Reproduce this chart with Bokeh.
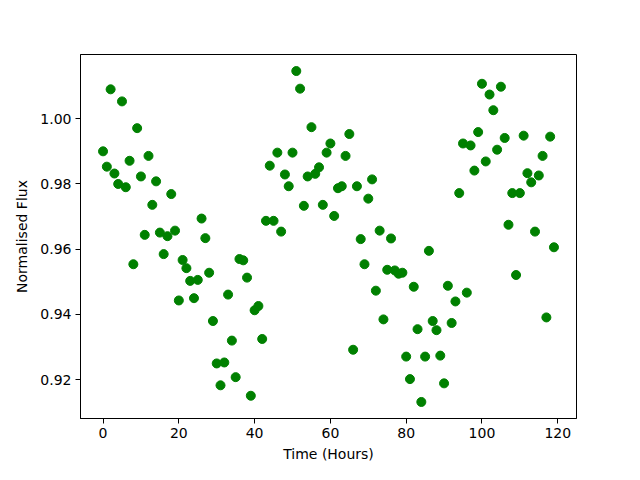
from bokeh.plotting import figure
from bokeh.models import Range1d, FixedTicker, NumeralTickFormatter
from bokeh.embed import file_html
from bokeh.resources import INLINE

hours = list(range(120))
flux = [
    0.9900, 0.9853, 1.0090, 0.9832, 0.9800, 1.0053, 0.9790, 0.9871, 0.9554, 0.9971,
    0.9823, 0.9644, 0.9886, 0.9736, 0.9808, 0.9651, 0.9585, 0.9640, 0.9769, 0.9657,
    0.9443, 0.9567, 0.9542, 0.9503, 0.9450, 0.9506, 0.9694, 0.9634, 0.9528, 0.9380,
    0.9250, 0.9183, 0.9253, 0.9461, 0.9320, 0.9208, 0.9570, 0.9566, 0.9513, 0.9151,
    0.9413, 0.9426, 0.9325, 0.9687, 0.9856, 0.9687, 0.9896, 0.9654, 0.9829, 0.9793,
    0.9896, 1.0146, 1.0092, 0.9733, 0.9823, 0.9974, 0.9831, 0.9851, 0.9736, 0.9896,
    0.9924, 0.9702, 0.9787, 0.9793, 0.9886, 0.9953, 0.9292, 0.9793, 0.9631, 0.9554,
    0.9755, 0.9814, 0.9473, 0.9657, 0.9385, 0.9537, 0.9633, 0.9535, 0.9525, 0.9528,
    0.9271, 0.9202, 0.9485, 0.9355, 0.9132, 0.9271, 0.9595, 0.9380, 0.9352, 0.9274,
    0.9189, 0.9488, 0.9374, 0.9440, 0.9772, 0.9924, 0.9467, 0.9918, 0.9841, 0.9959,
    1.0107, 0.9869, 1.0074, 1.0026, 0.9905, 1.0098, 0.9941, 0.9675, 0.9772, 0.9521,
    0.9772, 0.9948, 0.9833, 0.9805, 0.9654, 0.9826, 0.9886, 0.9391, 0.9945, 0.9606,
]
x_ticks = [0, 20, 40, 60, 80, 100, 120]
y_ticks = [0.92, 0.94, 0.96, 0.98, 1.00]

p = figure(width=632, height=464, output_backend="svg", toolbar_location=None,
           x_range=Range1d(-5.95, 124.95), y_range=Range1d(0.90813, 1.01967),
           min_border_left=80, min_border_right=56, min_border_top=54, min_border_bottom=41)

p.scatter(hours, flux, size=9, fill_color="#008000", line_color="#008000")

p.xgrid.visible = False
p.ygrid.visible = False
p.outline_line_color = "black"
p.outline_line_width = 1
p.background_fill_color = "white"
p.border_fill_color = "white"

for ax in (p.xaxis[0], p.yaxis[0]):
    ax.axis_line_color = "black"
    ax.major_tick_line_color = "black"
    ax.major_tick_out = 5
    ax.major_tick_in = 0
    ax.minor_tick_line_color = None
    ax.major_label_text_color = "black"
    ax.major_label_text_font = "DejaVu Sans"
    ax.major_label_text_font_size = "14px"
    ax.axis_label_text_font = "DejaVu Sans"
    ax.axis_label_text_font_size = "14px"
    ax.axis_label_text_font_style = "normal"
    ax.axis_label_text_color = "black"

p.xaxis.ticker = FixedTicker(ticks=x_ticks)
p.yaxis.ticker = FixedTicker(ticks=y_ticks)
p.yaxis.formatter = NumeralTickFormatter(format="0.00")
p.xaxis.axis_label = "Time (Hours)"
p.yaxis.axis_label = "Normalised Flux"
p.xaxis.major_label_standoff = 4
p.yaxis.major_label_standoff = 4
p.xaxis.axis_label_standoff = 5
p.yaxis.axis_label_standoff = 7

open("out.html", "w").write(file_html(p, INLINE))
